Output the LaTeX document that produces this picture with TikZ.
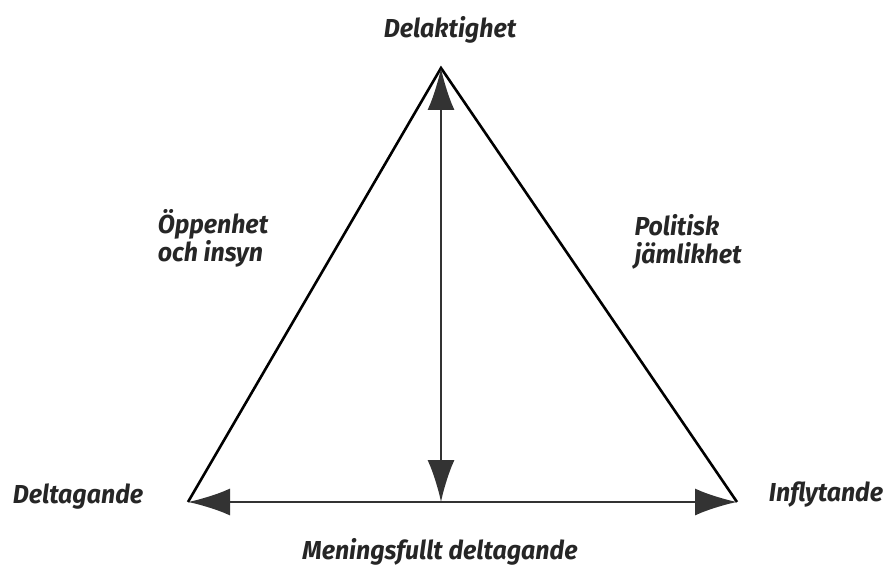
\documentclass[tikz,border=0pt]{standalone}
\usepackage{fontspec}
\setmainfont{Fira Sans}[FakeStretch=0.96]
\usetikzlibrary{positioning, arrows.meta}

\tikzset{
  lbl/.style={font=\bfseries\itshape\fontsize{26}{28}\selectfont, inner sep=0pt, align=left, text=black!85},
  side/.style={line width=2.6pt, black},
  axis/.style={line width=2.2pt, black!80, arrows={Latex[length=42pt, width=27pt]-Latex[length=42pt, width=27pt]}}
}

\begin{document}
\begin{tikzpicture}[x=1pt, y=-1pt]
      \useasboundingbox (0,0) rectangle (889,567);

      % corners of the triangle
      \coordinate (top) at (441,68);
      \coordinate (left) at (188,502);
      \coordinate (right) at (737,502);
      \coordinate (foot) at (441,502);

      % labels
      \node[lbl] at (450,30) (delak) {Delaktighet};
      \node[lbl] at (213,238) (oppen) {Öppenhet\\och insyn};
      \node[lbl] at (688,242) (polit) {Politisk\\jämlikhet};
      \node[lbl] at (78,497) (delta) {Deltagande};
      \node[lbl] at (826,495) (infly) {Inflytande};
      \node[lbl] at (440,552) (menin) {Meningsfullt deltagande};

      % sides
      \draw[side, line join=miter] (left) -- (top) -- (right);

      % arrows
      \draw[axis] (top) -- (foot);
      \draw[axis] (left) -- (right);
    \end{tikzpicture}
\end{document}
